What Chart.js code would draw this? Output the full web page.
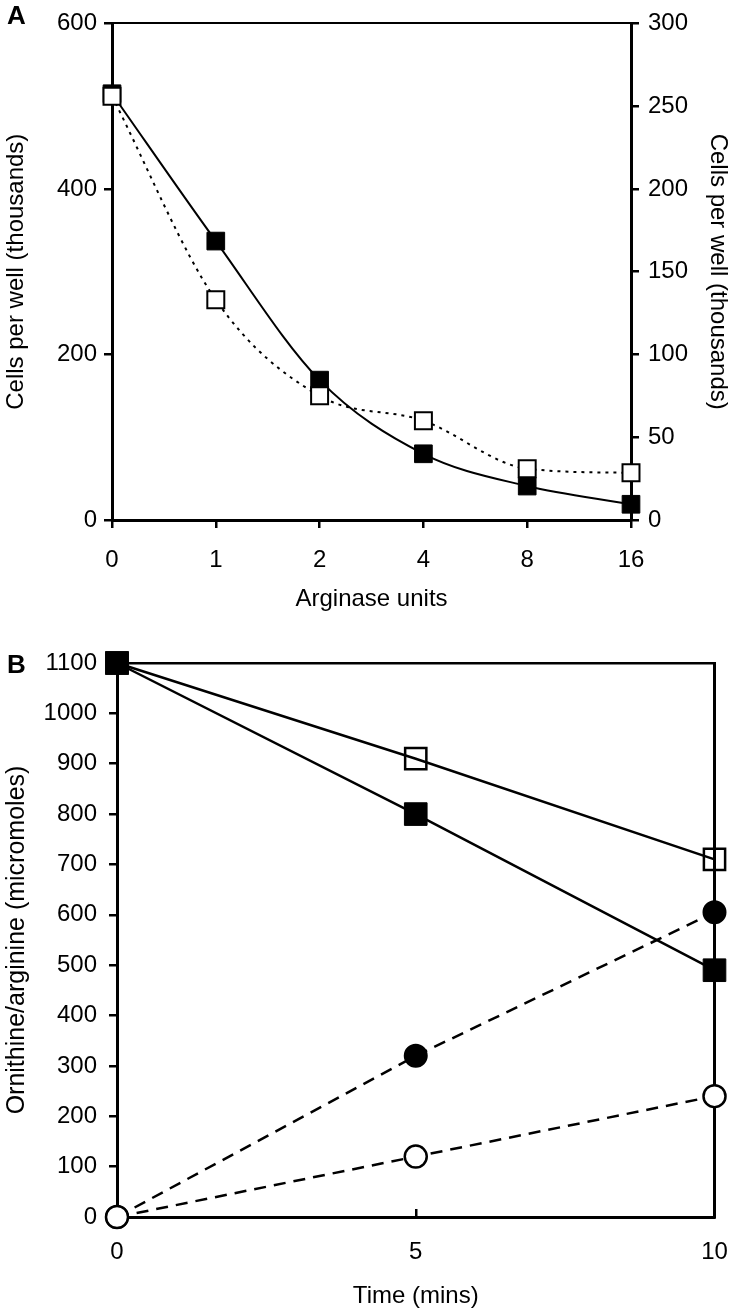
<!DOCTYPE html>
<html>
<head>
<meta charset="utf-8">
<script src="https://cdn.jsdelivr.net/npm/chart.js@4"></script>
<style>
  body { margin: 0; background: #fff; width: 732px; height: 1314px; position: relative; overflow: hidden;
         font-family: "Liberation Sans", Arial, sans-serif; }
  canvas { position: absolute; left: 0; }
  #chartA { top: 0; }
  #chartB { top: 630px; }
  .panel { position: absolute; font-weight: bold; font-size: 26px; line-height: 1; }
</style>
</head>
<body>
<canvas id="chartA" width="732" height="620"></canvas>
<canvas id="chartB" width="732" height="684"></canvas>
<div class="panel" style="left:7px;top:2px">A</div>
<div class="panel" style="left:7px;top:651px">B</div>
<script>
// panel A
const arginaseUnits = ['0', '1', '2', '4', '8', '16'];
const cellsFilled = [515, 337, 169, 80, 41, 19];     // left axis
const cellsOpen = [256, 133, 75, 60, 31, 28.5];      // right axis

// panel B
const timeMins = [0, 5, 10];
const arginineOpen = [1100, 910, 710];
const arginineFilled = [1100, 800, 490];
const ornithineFilled = [0, 320, 605];
const ornithineOpen = [0, 120, 240];

const font = { family: '"Liberation Sans", Arial, sans-serif', size: 24 };
const black = '#000';
const plain = (v) => String(v);

function pts(values) {
  return timeMins.map((t, i) => ({ x: t, y: values[i] }));
}

function tickGrid(len) {
  return { drawOnChartArea: false, color: black, lineWidth: 2.5, tickLength: len };
}

function frameAxis(position, width) {
  return {
    type: 'linear',
    position,
    ticks: { display: false },
    grid: { drawOnChartArea: false, drawTicks: false },
    border: { color: black, width },
    afterFit: (s) => { if (position === 'top') s.height = 0; else s.width = 0; }
  };
}

function series(data, opts) {
  return Object.assign({
    data,
    borderColor: black,
    borderWidth: 2,
    pointBorderColor: black,
    pointBorderWidth: 2,
    pointHoverRadius: 0,
    clip: false,
    fill: false
  }, opts);
}

Chart.defaults.color = black;
Chart.defaults.font.family = font.family;

new Chart(document.getElementById('chartA'), {
  type: 'line',
  data: {
    labels: arginaseUnits,
    datasets: [
      series(cellsOpen, { yAxisID: 'y1', borderDash: [3, 5], cubicInterpolationMode: 'monotone',
        pointStyle: 'rect', pointRadius: 12, pointBackgroundColor: '#fff' }),
      series(cellsFilled, { yAxisID: 'y', cubicInterpolationMode: 'monotone',
        pointStyle: 'rect', pointRadius: 12.5, pointBackgroundColor: black, pointBorderWidth: 1 })
    ]
  },
  options: {
    responsive: false,
    animation: false,
    events: [],
    layout: { padding: { top: 17 } },
    plugins: { legend: { display: false }, tooltip: { enabled: false } },
    scales: {
      x: {
        offset: false,
        grid: tickGrid(8),
        border: { color: black, width: 3 },
        ticks: { font, padding: 18, maxRotation: 0 },
        title: { display: true, text: 'Arginase units', font, padding: { bottom: 6 } },
        afterFit: (s) => { s.height = 100; s.paddingRight = 0; }
      },
      xTop: frameAxis('top', 2),
      y: {
        position: 'left',
        min: 0,
        max: 600,
        ticks: { stepSize: 200, font, padding: 7, callback: plain },
        grid: tickGrid(8),
        border: { color: black, width: 3 },
        title: { display: true, text: 'Cells per well (thousands)', font, padding: { top: 2 } },
        afterFit: (s) => { s.width = 112; }
      },
      y1: {
        position: 'right',
        min: 0,
        max: 300,
        ticks: { stepSize: 50, font, padding: 9, callback: plain },
        grid: tickGrid(8),
        border: { color: black, width: 3 },
        title: { display: true, text: 'Cells per well (thousands)', font, padding: { top: 0 } },
        afterFit: (s) => { s.width = 101; }
      }
    }
  }
});

new Chart(document.getElementById('chartB'), {
  type: 'line',
  data: {
    datasets: [
      series(pts(ornithineOpen), { borderWidth: 2.5, borderDash: [12, 8], pointStyle: 'circle', pointRadius: 11,
        pointBackgroundColor: '#fff', pointBorderWidth: 2.5 }),
      series(pts(arginineFilled), { borderWidth: 2.5, pointStyle: 'rect', pointRadius: 16,
        pointBackgroundColor: black, pointBorderWidth: 1 }),
      series(pts(ornithineFilled), { borderWidth: 2.5, borderDash: [12, 8], pointStyle: 'circle', pointRadius: 11,
        pointBackgroundColor: black }),
      series(pts(arginineOpen), { borderWidth: 2.5, pointStyle: 'rect', pointRadius: 15,
        pointBackgroundColor: 'rgba(0,0,0,0)', pointBorderWidth: 2.5 })
    ]
  },
  options: {
    responsive: false,
    animation: false,
    events: [],
    layout: { padding: { top: 33, right: 16 } },
    plugins: { legend: { display: false }, tooltip: { enabled: false } },
    scales: {
      x: {
        type: 'linear',
        min: 0,
        max: 10,
        ticks: { stepSize: 5, font, padding: 29, maxRotation: 0, callback: plain },
        grid: tickGrid(-8),
        border: { color: black, width: 3 },
        title: { display: true, text: 'Time (mins)', font, padding: { bottom: 3 } },
        afterFit: (s) => { s.height = 97; s.paddingRight = 0; s.paddingLeft = 0; }
      },
      xTop: frameAxis('top', 2.5),
      y: {
        position: 'left',
        min: 0,
        max: 1100,
        ticks: { stepSize: 100, font, padding: 12, callback: plain },
        grid: tickGrid(8),
        border: { color: black, width: 3 },
        title: { display: true, text: 'Ornithine/arginine (micromoles)', font: { family: font.family, size: 25 },
          padding: { top: 2 } },
        afterFit: (s) => { s.width = 117; }
      },
      yRight: frameAxis('right', 3)
    }
  }
});
</script>
</body>
</html>
